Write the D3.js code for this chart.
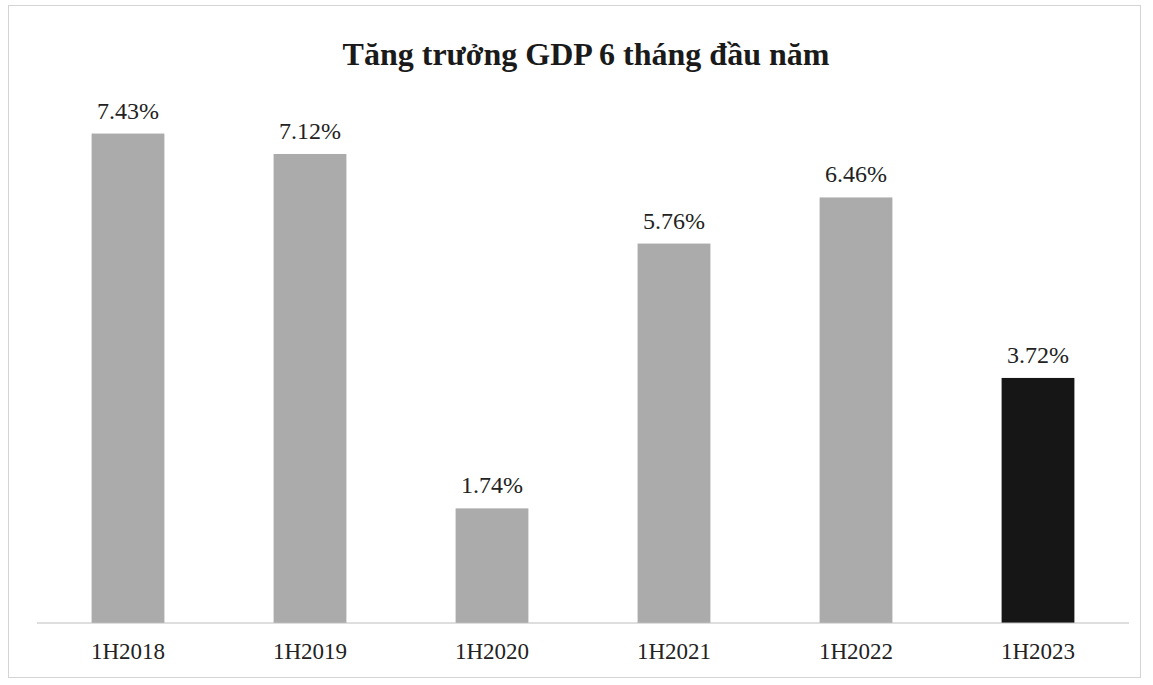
<!DOCTYPE html>
<html><head><meta charset="utf-8">
<script src="https://cdn.jsdelivr.net/npm/d3@7"></script>
<style>body{margin:0;background:#fff}</style>
</head><body>
<svg id="c" width="1153" height="685"></svg>
<script>
const categories = ["1H2018","1H2019","1H2020","1H2021","1H2022","1H2023"];
const values = [7.43, 7.12, 1.74, 5.76, 6.46, 3.72];
const valueLabels = ["7.43%","7.12%","1.74%","5.76%","6.46%","3.72%"];
const title = "Tăng trưởng GDP 6 tháng đầu năm";

const svg = d3.select("#c");
svg.append("rect").attr("x",8.5).attr("y",5.5).attr("width",1132).attr("height",672)
  .attr("fill","#fff").attr("stroke","#d4d4d4").attr("stroke-width",1);

const x = d3.scaleBand().domain(categories).range([37,1129]).paddingInner(0.6).paddingOuter(0.3);
const y = d3.scaleLinear().domain([0,8]).range([623,96]);

svg.append("text").attr("x",586).attr("y",65).attr("text-anchor","middle")
  .attr("font-family","Liberation Serif, serif").attr("font-weight","bold").attr("font-size",32)
  .attr("fill","#1a1a1a").text(title);

svg.selectAll("rect.bar").data(values).join("rect").attr("class","bar")
  .attr("x",(d,i)=>x(categories[i])).attr("width",x.bandwidth())
  .attr("y",d=>y(d)).attr("height",d=>y(0)-y(d))
  .attr("fill",(d,i)=>i===values.length-1?"#161616":"#ababab");

svg.selectAll("text.val").data(values).join("text").attr("class","val")
  .attr("x",(d,i)=>x(categories[i])+x.bandwidth()/2).attr("y",d=>y(d)-15)
  .attr("text-anchor","middle").attr("font-family","Liberation Serif, serif").attr("font-size",24)
  .attr("fill","#222").text((d,i)=>valueLabels[i]);

const ax = svg.append("g").attr("transform",`translate(0,${y(0)})`)
  .call(d3.axisBottom(x).tickSize(0).tickPadding(20));
ax.select(".domain").attr("stroke","#bdbdbd").attr("d","M37,0H1129");
ax.selectAll("text").attr("font-family","Liberation Serif, serif").attr("font-size",23).attr("fill","#222");
</script>
</body></html>
